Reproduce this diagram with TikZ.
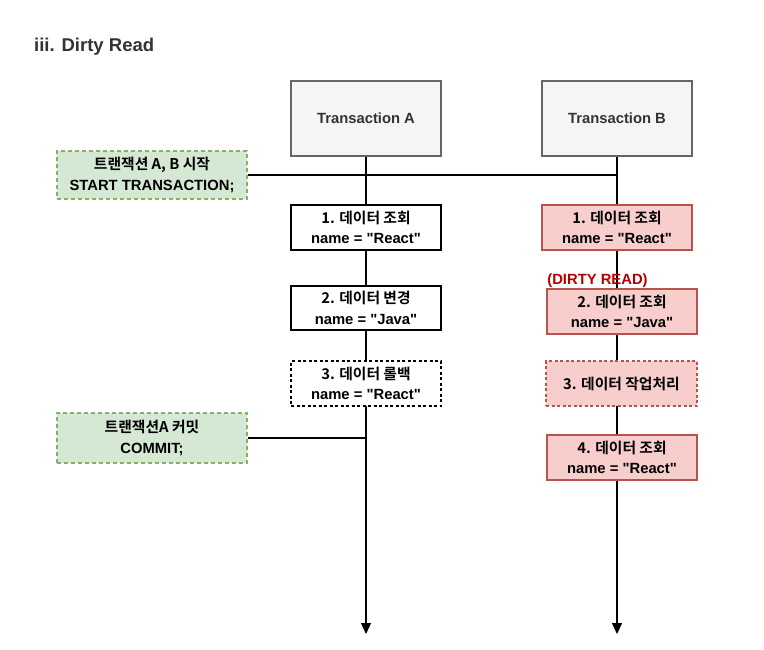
\documentclass[tikz,border=0pt]{standalone}
\usepackage{fontspec}
\setmainfont{Liberation Sans}
\newfontfamily\latin{Liberation Sans}
\newfontfamily\kr{Noto Sans CJK KR}[BoldFont={Noto Sans CJK KR Bold}]
\usetikzlibrary{arrows.meta,backgrounds}
\definecolor{hdrfill}{HTML}{F5F5F5}
\definecolor{hdrdraw}{HTML}{666666}
\definecolor{gfill}{HTML}{D5E8D4}
\definecolor{gdraw}{HTML}{82B366}
\definecolor{rfill}{HTML}{F8CECC}
\definecolor{rdraw}{HTML}{B85450}
\definecolor{dirty}{HTML}{B20000}
\definecolor{titlec}{HTML}{333333}
\tikzset{
  base/.style={align=center, inner sep=0pt, font=\latin\fontsize{14.8}{20.5}\selectfont\bfseries, line width=1.1pt},
  hdr/.style={base, draw=hdrdraw, fill=hdrfill, minimum width=150pt, minimum height=75pt, text=titlec},
  abox/.style={base, draw=black, fill=white, minimum width=150pt, minimum height=45pt},
  adash/.style={abox, dash pattern=on 3pt off 2.5pt},
  gbox/.style={base, draw=gdraw, fill=gfill, minimum width=190pt, minimum height=48pt, dash pattern=on 4pt off 3pt},
  rbox/.style={base, draw=rdraw, fill=rfill, minimum width=150pt, minimum height=45pt},
  rdash/.style={rbox, dash pattern=on 3pt off 2.5pt},
  life/.style={line width=1.2pt, -{Triangle[length=11pt,width=10pt]}},
  link/.style={line width=1.2pt}
}
\begin{document}
\begin{tikzpicture}[x=1pt,y=-1pt]
\useasboundingbox (0,0) rectangle (764,649);
\node[anchor=west, font=\latin\fontsize{18.5}{20}\selectfont\bfseries, text=titlec, inner sep=0pt] (title) at (34,47) {iii. Dirty Read};
\node[hdr] (TA) at (366,118.5) {Transaction A};
\node[hdr] (TB) at (617,118.5) {Transaction B};
\node[gbox] (g1) at (152,175) {{\kr 트랜잭션 A, B 시작}\\START TRANSACTION;};
\node[abox] (a1) at (366,227.5) {{\kr 1. 데이터 조회}\\name = "React"};
\node[abox, minimum height=44pt] (a2) at (366,308) {{\kr 2. 데이터 변경}\\name = "Java"};
\node[adash] (a3) at (366,383.5) {{\kr 3. 데이터 롤백}\\name = "React"};
\node[gbox, minimum height=50pt] (g2) at (152,438) {{\kr 트랜잭션A 커밋}\\COMMIT;};
\node[rbox] (b1) at (617,227.5) {{\kr 1. 데이터 조회}\\name = "React"};
\node[base, text=dirty] (dr) at (597.5,281) {(DIRTY READ)};
\node[rbox] (b2) at (622,311.5) {{\kr 2. 데이터 조회}\\name = "Java"};
\node[rdash, minimum width=151pt] (b3) at (621.5,383.5) {{\kr 3. 데이터 작업처리}};
\node[rbox] (b4) at (622,457.5) {{\kr 4. 데이터 조회}\\name = "React"};
\coordinate (ea) at (366,634);
\coordinate (eb) at (617,634);
\begin{scope}[on background layer]
\draw[life] (TA.south) -- (ea);
\draw[life] (TB.south) -- (eb);
\draw[link] (g1.east) -- (g1.east -| TB);
\draw[link] (g2.east) -- (g2.east -| TA);
\end{scope}
\end{tikzpicture}
\end{document}
